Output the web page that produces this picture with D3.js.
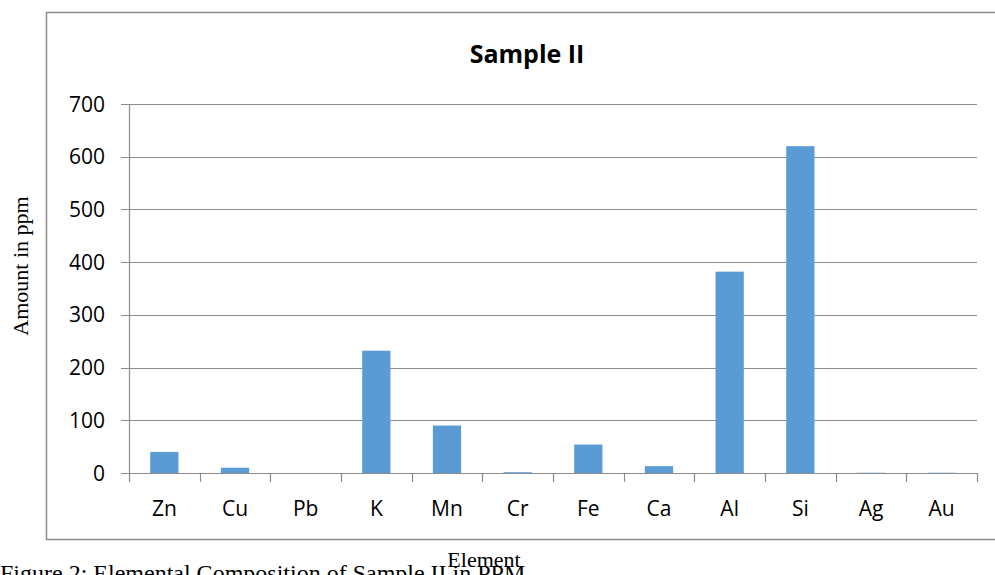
<!DOCTYPE html>
<html>
<head>
<meta charset="utf-8">
<script src="https://cdn.jsdelivr.net/npm/d3@7"></script>
<style>
  body { margin: 0; background: #fff; overflow: hidden; }
</style>
</head>
<body>
<div id="chart"></div>
<script>
const elements = ['Zn', 'Cu', 'Pb', 'K', 'Mn', 'Cr', 'Fe', 'Ca', 'Al', 'Si', 'Ag', 'Au'];
const amounts = [40, 10, 0, 232, 90, 1.5, 54, 13, 382, 620, 0.5, 0.5];
const yTicks = [0, 100, 200, 300, 400, 500, 600, 700];

const width = 995, height = 575;
const margin = {left: 129, right: 18, top: 104, bottom: 102};
const sans = '"Open Sans", Lato, sans-serif';
const serif = '"Liberation Serif", "Times New Roman", serif';

const svg = d3.select('#chart').append('svg')
  .attr('width', width)
  .attr('height', height);

// chart frame
svg.append('rect')
  .attr('x', 46.5).attr('y', 12.5)
  .attr('width', 1000).attr('height', 527)
  .attr('fill', 'none')
  .attr('stroke', '#8c8c8c')
  .attr('stroke-width', 1.5);

const x = d3.scaleBand()
  .domain(elements)
  .range([margin.left, width - margin.right])
  .paddingInner(0.6)
  .paddingOuter(0.3);

const y = d3.scaleLinear()
  .domain([0, 700])
  .range([height - margin.bottom, margin.top]);

// gridlines
svg.append('g')
  .selectAll('line')
  .data(yTicks)
  .join('line')
  .attr('x1', margin.left - 8)
  .attr('x2', width - margin.right)
  .attr('y1', d => Math.round(y(d)) + 0.5)
  .attr('y2', d => Math.round(y(d)) + 0.5)
  .attr('stroke', '#8c8c8c')
  .attr('stroke-width', 1.2);

// y axis line
svg.append('line')
  .attr('x1', margin.left + 0.5).attr('x2', margin.left + 0.5)
  .attr('y1', y(700)).attr('y2', y(0))
  .attr('stroke', '#8c8c8c')
  .attr('stroke-width', 1.2);

// y labels
svg.append('g')
  .selectAll('text')
  .data(yTicks)
  .join('text')
  .attr('x', 105)
  .attr('y', d => y(d) + 7.5)
  .attr('text-anchor', 'end')
  .attr('font-family', sans)
  .attr('font-size', 21)
  .attr('fill', '#000')
  .text(d => d);

// x tick marks at band boundaries
const step = x.step();
const bounds = d3.range(elements.length + 1).map(i => margin.left + i * step);
svg.append('g')
  .selectAll('line')
  .data(bounds)
  .join('line')
  .attr('x1', d => Math.round(d) + 0.5)
  .attr('x2', d => Math.round(d) + 0.5)
  .attr('y1', y(0))
  .attr('y2', y(0) + 9)
  .attr('stroke', '#8c8c8c')
  .attr('stroke-width', 1.2);

// bars
svg.append('g')
  .selectAll('rect')
  .data(elements.map((e, i) => ({e, v: amounts[i]})))
  .join('rect')
  .attr('x', d => x(d.e))
  .attr('width', x.bandwidth())
  .attr('y', d => y(d.v))
  .attr('height', d => y(0) - y(d.v))
  .attr('fill', '#5b9bd5');

// x labels
svg.append('g')
  .selectAll('text')
  .data(elements)
  .join('text')
  .attr('x', d => x(d) + x.bandwidth() / 2)
  .attr('y', 516)
  .attr('text-anchor', 'middle')
  .attr('font-family', sans)
  .attr('font-size', 21)
  .attr('fill', '#000')
  .text(d => d);

// title
svg.append('text')
  .attr('x', 527).attr('y', 63)
  .attr('text-anchor', 'middle')
  .attr('font-family', sans)
  .attr('font-weight', 'bold')
  .attr('font-size', 25)
  .text('Sample II');

// y axis title
svg.append('text')
  .attr('transform', 'translate(28,266) rotate(-90)')
  .attr('text-anchor', 'middle')
  .attr('font-family', serif)
  .attr('font-size', 22)
  .text('Amount in ppm');

// x axis title
svg.append('text')
  .attr('x', 484).attr('y', 567)
  .attr('text-anchor', 'middle')
  .attr('font-family', serif)
  .attr('font-size', 22)
  .text('Element');

// figure caption (partly below page edge, as in the source)
svg.append('text')
  .attr('x', 0).attr('y', 581)
  .attr('font-family', serif)
  .attr('font-size', 24)
  .text('Figure 2: Elemental Composition of Sample II in PPM');
</script>
</body>
</html>
